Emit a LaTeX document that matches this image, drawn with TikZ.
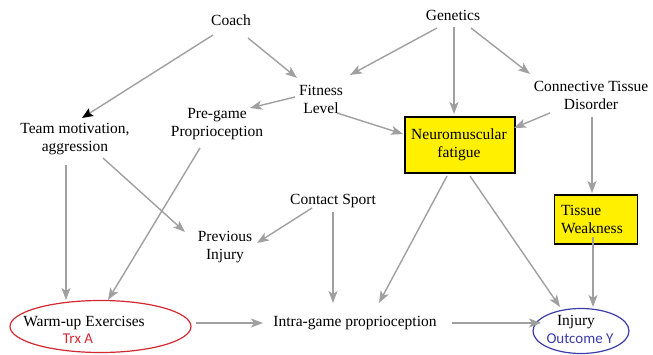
\documentclass[tikz,border=0pt]{standalone}
\usepackage{fontspec}
\setmainfont{Liberation Serif}
\newfontfamily\calib{Carlito}
\usetikzlibrary{arrows.meta}
\definecolor{arrgray}{RGB}{160,160,160}
\definecolor{boxyellow}{RGB}{255,240,0}
\definecolor{trxred}{RGB}{210,40,50}
\definecolor{outblue}{RGB}{60,60,170}
\tikzset{
  lbl/.style={font=\fontsize{15.5}{18}\selectfont, align=center, inner sep=1pt},
  conn/.style={draw=arrgray, line width=1.4pt, -{Stealth[length=12pt,width=9pt,inset=3pt]}},
  ybox/.style={draw=black, line width=1.3pt, fill=boxyellow, inner sep=0pt},
}
\begin{document}
\begin{tikzpicture}[x=1pt,y=-1pt]
\useasboundingbox (0,0) rectangle (653,355);
\fill[white] (0,0) rectangle (653,355);
% boxes
\node[ybox, minimum width=110pt, minimum height=56pt] (nmbox) at (460,145) {};
\node[ybox, minimum width=83pt, minimum height=49pt] (twbox) at (596,219.5) {};
% ellipses
\draw[trxred, line width=1.2pt] (100.5,326.5) ellipse [x radius=90.5, y radius=26];
\draw[outblue, line width=1.2pt] (581,331) ellipse [x radius=48, y radius=22.5];
% text nodes
\node[lbl] (coach) at (231,20) {Coach};
\node[lbl] (gen) at (453,15) {Genetics};
\node[lbl] (fit) at (321,99) {Fitness\\Level};
\node[lbl] (pre) at (217,124) {Pre-game\\Proprioception};
\node[lbl] (team) at (75,139) {Team motivation,\\aggression};
\node[lbl] (ctd) at (591,95) {Connective Tissue\\Disorder};
\node[lbl] (nm) at (459,145) {Neuromuscular\\fatigue};
\node[lbl, align=left, anchor=west] (tw) at (560,219) {Tissue\\Weakness};
\node[lbl] (cs) at (333,201) {Contact Sport};
\node[lbl] (prev) at (225,247) {Previous\\Injury};
\node[lbl] (warm) at (84,323) {Warm-up Exercises};
\node[font=\calib\fontsize{15}{17}\selectfont, text=trxred, inner sep=0pt] (trx) at (78,339) {Trx A};
\node[lbl] (intra) at (355,323) {Intra-game proprioception};
\node[lbl] (inj) at (576,322) {Injury};
\node[font=\calib\fontsize{15}{17}\selectfont, text=outblue, inner sep=0pt] (outy) at (580,339) {Outcome Y};
% anchor coordinates
\coordinate (c1) at (213,35); \coordinate (t1) at (82,118);
\coordinate (c2) at (248,38); \coordinate (f1) at (297,78);
\coordinate (f2) at (295,97); \coordinate (p1) at (250,108);
\coordinate (g1) at (437,28); \coordinate (f3) at (350,75);
\coordinate (g2) at (454,27); \coordinate (n1) at (454,114);
\coordinate (g3) at (471,28); \coordinate (d1) at (530,74);
\coordinate (f4) at (337,113); \coordinate (n2) at (403,134);
\coordinate (d2) at (550,113); \coordinate (n3) at (514,128);
\coordinate (d3) at (592,117); \coordinate (w1) at (592,193);
\coordinate (t2) at (66,165); \coordinate (a1) at (66,300);
\coordinate (t3) at (103,158); \coordinate (v1) at (185,232);
\coordinate (p2) at (200,148); \coordinate (a2) at (108,300);
\coordinate (s1) at (312,208); \coordinate (v2) at (257,243);
\coordinate (s2) at (333,212); \coordinate (i1) at (333,303);
\coordinate (n4) at (447,176); \coordinate (i2) at (379,303);
\coordinate (n5) at (470,176); \coordinate (j1) at (560,307);
\coordinate (w2) at (593,237); \coordinate (j2) at (593,307);
\coordinate (a3) at (196,323); \coordinate (i3) at (263,323);
\coordinate (i4) at (452,323); \coordinate (j3) at (541,323);
% connectors
\draw[conn, -{Stealth[length=11pt,width=9pt,inset=2pt,fill=black,color=black]}] (c1) -- (t1);
\draw[conn] (c2) -- (f1);
\draw[conn] (f2) -- (p1);
\draw[conn] (g1) -- (f3);
\draw[conn] (g2) -- (n1);
\draw[conn] (g3) -- (d1);
\draw[conn] (f4) -- (n2);
\draw[conn] (d2) -- (n3);
\draw[conn] (d3) -- (w1);
\draw[conn] (t2) -- (a1);
\draw[conn] (t3) -- (v1);
\draw[conn] (p2) -- (a2);
\draw[conn] (s1) -- (v2);
\draw[conn] (s2) -- (i1);
\draw[conn] (n4) -- (i2);
\draw[conn] (n5) -- (j1);
\draw[conn] (w2) -- (j2);
\draw[conn] (a3) -- (i3);
\draw[conn] (i4) -- (j3);
\end{tikzpicture}
\end{document}
